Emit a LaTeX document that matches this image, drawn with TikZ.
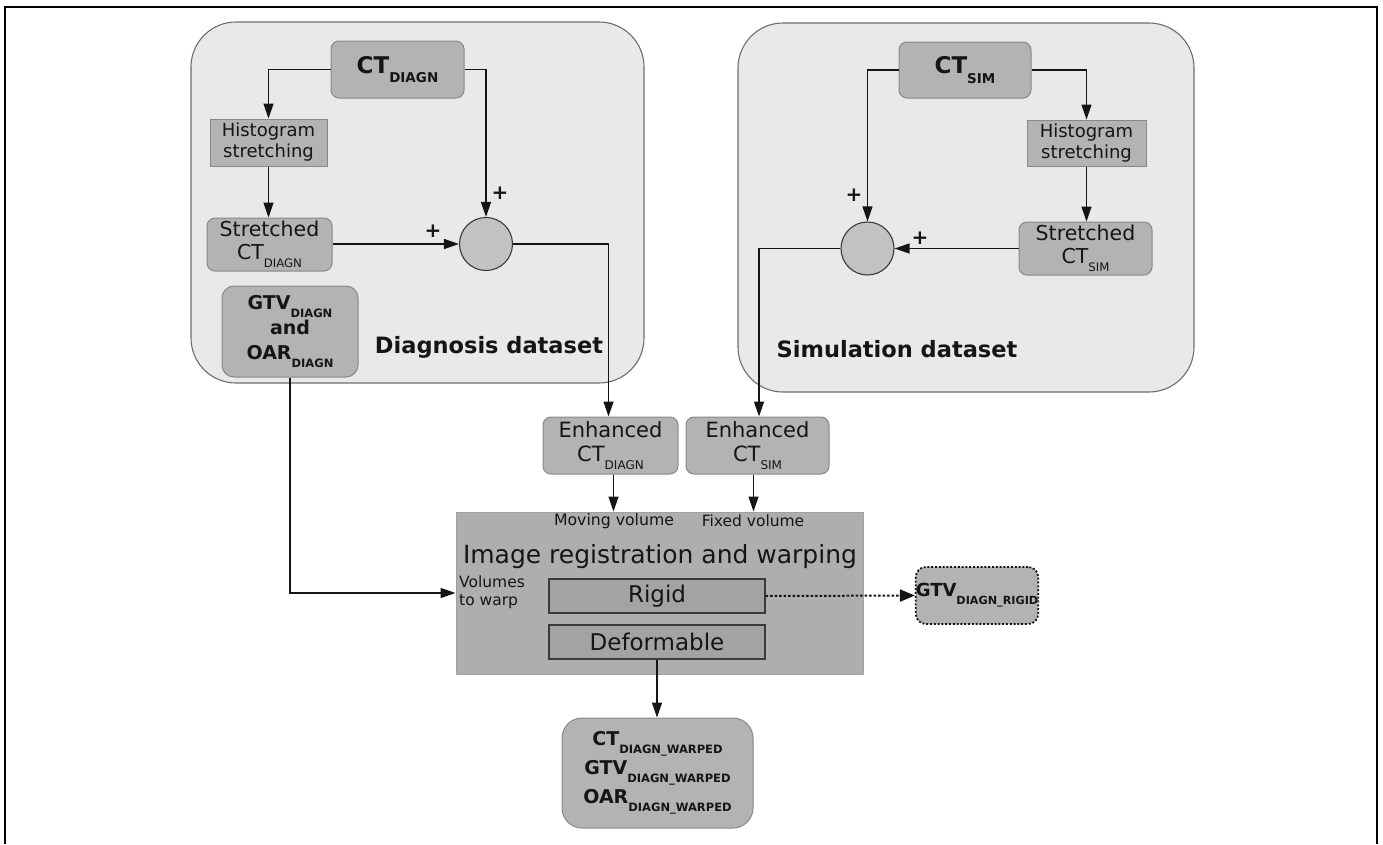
\documentclass[tikz,border=0pt]{standalone}
\usepackage{fontspec}
\setmainfont{DejaVu Sans}
\usetikzlibrary{arrows.meta,calc}
\definecolor{bigfill}{HTML}{E9E9E9}
\definecolor{bigdraw}{HTML}{6E6E6E}
\definecolor{boxfill}{HTML}{B3B3B3}
\definecolor{boxdraw}{HTML}{888888}
\definecolor{darkfill}{HTML}{A3A3A3}
\definecolor{darkdraw}{HTML}{3A3A3A}
\definecolor{circfill}{HTML}{C2C2C2}
\definecolor{inkc}{HTML}{151515}
\newcommand{\lowsub}[2]{\raisebox{-0.72\dimexpr#1pt\relax}{\fontsize{#1}{#1}\selectfont #2}}
\newcommand{\fs}[2]{\fontsize{#1}{#2}\selectfont\lineskiplimit=-50pt}
\begin{document}
\begin{tikzpicture}[x=1pt,y=-1pt,
  bigbox/.style={draw=bigdraw, fill=bigfill, line width=1.1pt, rounded corners=45pt, inner sep=0pt},
  gbox/.style={draw=boxdraw, fill=boxfill, line width=1pt, rounded corners=8pt, inner sep=0pt, align=center, text=inkc},
  sqbox/.style={draw=boxdraw, fill=boxfill, line width=1pt, inner sep=0pt, align=center, text=inkc},
  dbox/.style={draw=darkdraw, fill=darkfill, line width=1.1pt, inner sep=0pt, align=center, text=inkc},
  sumc/.style={circle, draw=darkdraw, fill=circfill, line width=1.1pt, minimum size=53pt, inner sep=0pt},
  arr/.style={draw=inkc, line width=1.3pt, -{Triangle[length=15pt,width=10pt]}},
  plus/.style={font=\fs{20}{20}\bfseries, text=inkc, inner sep=0pt},
  lbl/.style={inner sep=0pt, text=inkc}
]
\useasboundingbox (0,0) rectangle (1383,844);
\fill[white] (0,0) rectangle (1383,844);
% outer frame
\draw[line width=2pt, black] (5,844) -- (5,7) -- (1377,7) -- (1377,844);

% dataset boxes
\node[bigbox, minimum width=453pt, minimum height=361pt] (diagbox) at (417.5,202.5) {};
\node[bigbox, minimum width=456pt, minimum height=369pt] (simbox) at (966,207.5) {};

% diagnosis side
\node[gbox, minimum width=133pt, minimum height=57pt, font=\fs{23}{27}\bfseries] (ctd) at (397.5,69.5) {CT\lowsub{13.5}{DIAGN}};
\node[sqbox, minimum width=117pt, minimum height=47pt, font=\fs{18}{21}] (histd) at (268.5,142.5) {Histogram\\stretching};
\node[gbox, minimum width=125pt, minimum height=53pt, font=\fs{20.5}{23}] (strd) at (269.5,244.5) {Stretched\\CT\lowsub{11.7}{DIAGN}};
\node[sumc] (circd) at (486,244) {};
\node[gbox, rounded corners=12pt, minimum width=136pt, minimum height=91pt, font=\fs{19}{25}\bfseries] (gtvd) at (290,331.5) {GTV\lowsub{11.5}{DIAGN}\\and\\OAR\lowsub{11.5}{DIAGN}};
\node[lbl, font=\fs{22.5}{26}\bfseries] (dlab) at (489,347) {Diagnosis dataset};
\node[plus] (pd1) at (500,193) {+};
\node[plus] (pd2) at (433,231) {+};

% simulation side
\node[gbox, minimum width=132pt, minimum height=56pt, font=\fs{23}{27}\bfseries] (cts) at (965,70) {CT\lowsub{13.5}{SIM}};
\node[sqbox, minimum width=119pt, minimum height=46pt, font=\fs{18}{21}] (hists) at (1086.5,143) {Histogram\\stretching};
\node[gbox, minimum width=133pt, minimum height=53pt, font=\fs{20.5}{23}] (strs) at (1085.5,248.5) {Stretched\\CT\lowsub{11.7}{SIM}};
\node[sumc] (circs) at (867.5,248.5) {};
\node[lbl, font=\fs{22.5}{26}\bfseries] (slab) at (897,349) {Simulation dataset};
\node[plus] (ps1) at (854,195) {+};
\node[plus] (ps2) at (920,238) {+};

% enhanced
\node[gbox, minimum width=135pt, minimum height=57pt, font=\fs{21}{24}] (enhd) at (610.5,445.5) {Enhanced\\CT\lowsub{12}{DIAGN}};
\node[gbox, minimum width=143pt, minimum height=57pt, font=\fs{21}{24}] (enhs) at (757.5,445.5) {Enhanced\\CT\lowsub{12}{SIM}};

% registration
\node[sqbox, draw=boxdraw!80, fill=boxfill!97!black, minimum width=407pt, minimum height=162pt] (reg) at (659.5,593) {};
\node[lbl, font=\fs{15.7}{18}] (mov) at (614,521) {Moving volume};
\node[lbl, font=\fs{15.5}{18}] (fix) at (753,521) {Fixed volume};
\node[lbl, font=\fs{25}{28}] (regt) at (660,557) {Image registration and warping};
\node[lbl, anchor=west, align=left, font=\fs{15.5}{18}] (vw) at (459,592) {Volumes\\to warp};
\node[dbox, minimum width=216pt, minimum height=34pt, font=\fs{23}{26}] (rigid) at (657,596) {Rigid};
\node[dbox, minimum width=216pt, minimum height=34pt, font=\fs{23}{26}] (deform) at (657,642) {Deformable};

% outputs
\node[gbox, rounded corners=20pt, minimum width=191pt, minimum height=110pt, font=\fs{19}{29}\bfseries] (outb) at (657.5,773) {CT\lowsub{11.5}{DIAGN\_WARPED}\\GTV\lowsub{11.5}{DIAGN\_WARPED}\\OAR\lowsub{11.5}{DIAGN\_WARPED}};
\node[gbox, rounded corners=10pt, draw=inkc, line width=1.8pt, dash pattern=on 2pt off 1.8pt, minimum width=102pt, minimum height=57pt, font=\fs{18}{22}\bfseries] (gtvr) at (977,595.5) {GTV\lowsub{11.2}{DIAGN\_RIGID}};

% connectors diagnosis
\draw[arr] (ctd.west) -| (histd.north);
\draw[arr] (histd.south) -- (strd.north -| histd.south);
\draw[arr] (ctd.east) -| (circd.north);
\draw[arr] (strd.east |- circd.west) -- (circd.west);
\draw[arr] (circd.east) -| ($(enhd.north)+(-2,0)$);
% connectors simulation
\draw[arr] (cts.west) -| (circs.north);
\draw[arr] (cts.east) -| (hists.north);
\draw[arr] (hists.south) -- (strs.north -| hists.south);
\draw[arr] (strs.west |- circs.east) -- (circs.east);
\draw[arr] (circs.west) -| ($(enhs.north)+(1.5,0)$);
% to registration
\draw[arr] ($(enhd.south)+(3,0)$) -- ($(enhd.south |- reg.north)+(3,0)$);
\draw[arr] ($(enhs.south)+(-4,0)$) -- ($(enhs.south |- reg.north)+(-4,0)$);
\draw[arr] (gtvd.south) |- (reg.west);
\draw[arr] (deform.south) -- (outb.north -| deform.south);
\draw[draw=inkc, line width=2pt, dash pattern=on 2.5pt off 2pt, -{Triangle[length=15pt,width=12pt]}] (rigid.east) -- (gtvr.west);
\end{tikzpicture}
\end{document}
